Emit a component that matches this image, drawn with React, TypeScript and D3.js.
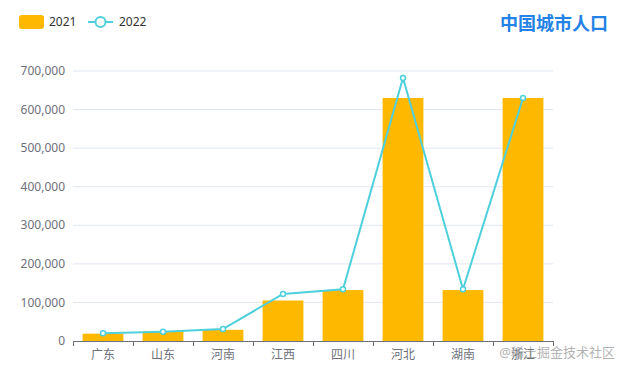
import React from 'react';
import * as d3 from 'd3';

const cities: string[] = ['广东', '山东', '河南', '江西', '四川', '河北', '湖南', '浙江'];
const pop2021: number[] = [19000, 25000, 29000, 105000, 132000, 630000, 132000, 630000];
const pop2022: number[] = [20000, 24000, 31000, 122000, 134000, 682000, 134000, 630000];
const yTicks: number[] = [0, 100000, 200000, 300000, 400000, 500000, 600000, 700000];
const seriesNames: string[] = ['2021', '2022'];
const title = '中国城市人口';

const width = 627;
const height = 370;
const margin = { top: 71, right: 74, bottom: 29, left: 73 };
const barColor = '#ffb800';
const lineColor = '#4ecfdc';
const axisColor = '#6e7079';
const font = '"Noto Sans", "Noto Sans CJK SC", sans-serif';

const App: React.FC = () => {
  const x = d3
    .scaleBand<string>()
    .domain(cities)
    .range([margin.left, width - margin.right])
    .paddingInner(0.32)
    .paddingOuter(0.16);

  const y = d3
    .scaleLinear()
    .domain([0, 700000])
    .range([height - margin.bottom, margin.top]);

  const fmt = d3.format(',');
  const line = d3
    .line<number>()
    .x((_, i) => (x(cities[i]) as number) + x.bandwidth() / 2)
    .y((d) => y(d));

  const step = (width - margin.right - margin.left) / cities.length;
  const base = y(0);

  return (
    <svg width={width} height={height} style={{ position: 'absolute', left: 0, top: 0 }} fontFamily={font}>
      {/* grid */}
      {yTicks.slice(1).map((t) => (
        <line key={t} x1={margin.left} x2={width - margin.right} y1={y(t)} y2={y(t)} stroke="#e0e6f1" />
      ))}
      {yTicks.map((t) => (
        <text key={'l' + t} x={margin.left - 8} y={y(t)} dy="0.35em" textAnchor="end" fontSize={12} fill={axisColor}>
          {fmt(t)}
        </text>
      ))}

      {/* bars */}
      {pop2021.map((v, i) => (
        <rect
          key={cities[i]}
          x={x(cities[i])}
          y={y(v)}
          width={x.bandwidth()}
          height={base - y(v)}
          fill={barColor}
        />
      ))}

      {/* x axis */}
      <line x1={margin.left} x2={width - margin.right} y1={base + 0.5} y2={base + 0.5} stroke={axisColor} />
      {d3.range(cities.length + 1).map((i) => (
        <line
          key={'t' + i}
          x1={margin.left + i * step + 0.5}
          x2={margin.left + i * step + 0.5}
          y1={base}
          y2={base + 5}
          stroke={axisColor}
        />
      ))}
      {cities.map((c) => (
        <text key={'x' + c} x={(x(c) as number) + x.bandwidth() / 2} y={base + 14} dy="0.35em" textAnchor="middle" fontSize={12} fill={axisColor}>
          {c}
        </text>
      ))}

      {/* line */}
      <path d={line(pop2022) as string} fill="none" stroke={lineColor} strokeWidth={2} />
      {pop2022.map((v, i) => (
        <circle
          key={'p' + i}
          cx={(x(cities[i]) as number) + x.bandwidth() / 2}
          cy={y(v)}
          r={2.5}
          fill="#fff"
          stroke={lineColor}
          strokeWidth={1.5}
        />
      ))}

      {/* legend */}
      <rect x={19} y={15} width={25} height={14} rx={3} fill={barColor} />
      <text x={49} y={22} dy="0.35em" fontSize={12} fill="#333">
        {seriesNames[0]}
      </text>
      <line x1={88} x2={113} y1={22} y2={22} stroke={lineColor} strokeWidth={2} />
      <circle cx={100.5} cy={22} r={5} fill="#fff" stroke={lineColor} strokeWidth={2} />
      <text x={119} y={22} dy="0.35em" fontSize={12} fill="#333">
        {seriesNames[1]}
      </text>

      {/* title */}
      <text x={608} y={24} dy="0.35em" textAnchor="end" fontSize={18} fontWeight="bold" fill="#2382e6">
        {title}
      </text>

      {/* watermark */}
      <text x={615} y={352} dy="0.35em" textAnchor="end" fontSize={13} fill="#9a9a9a" opacity={0.75}>
        @稀土掘金技术社区
      </text>
    </svg>
  );
};

export default App;
